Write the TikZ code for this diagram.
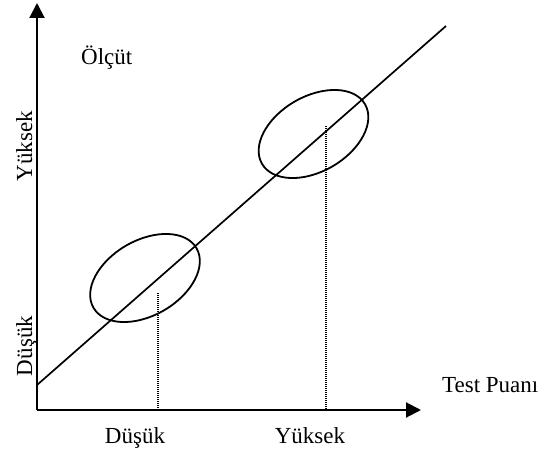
\documentclass[tikz,border=0pt]{standalone}
\usepackage{fontspec}
\setmainfont{Liberation Serif}
\usetikzlibrary{arrows.meta,shapes.geometric}
\begin{document}
\begin{tikzpicture}[x=1pt,y=-1pt,
  axis/.style={line width=2pt,-{Triangle[length=15pt,width=15pt]}},
  trend/.style={line width=1.7pt},
  group/.style={draw,ellipse,line width=1.8pt,inner sep=0pt,minimum width=119pt,minimum height=75pt,rotate=30},
  guide/.style={line width=1.1pt,dash pattern=on 1pt off 1pt},
  lbl/.style={inner sep=0pt,font=\fontsize{23}{27}\selectfont}]
\useasboundingbox (0,0) rectangle (550,452);
% axes
\coordinate (O) at (37,410);
\coordinate (ytip) at (37,3);
\coordinate (xtip) at (421,410);
\draw[axis] (O) -- (ytip);
\draw[axis] (O) -- (xtip);
% trend line
\coordinate (L1) at (37,385);
\coordinate (L2) at (446,26);
\draw[trend] (L1) -- (L2);
% ellipses
\node[group] (lowgrp) at (145,278) {};
\node[group] (highgrp) at (313.5,134) {};
% dotted guides
\coordinate (d1top) at (158,293);
\coordinate (d1bot) at (158,410);
\coordinate (d2top) at (326,126);
\coordinate (d2bot) at (326,410);
\draw[guide] (d1top) -- (d1bot);
\draw[guide] (d2top) -- (d2bot);
% labels
\node[lbl,anchor=base west] (olcut) at (81,65) {Ölçüt};
\node[lbl,anchor=base west] (testp) at (442,392) {Test Puanı};
\node[lbl,anchor=base] (xlow) at (135,443) {Düşük};
\node[lbl,anchor=base] (xhigh) at (310,443) {Yüksek};
\node[lbl,anchor=base,rotate=90] (yhigh) at (32,146) {Yüksek};
\node[lbl,anchor=base,rotate=90] (ylow) at (32,346) {Düşük};
\end{tikzpicture}
\end{document}
